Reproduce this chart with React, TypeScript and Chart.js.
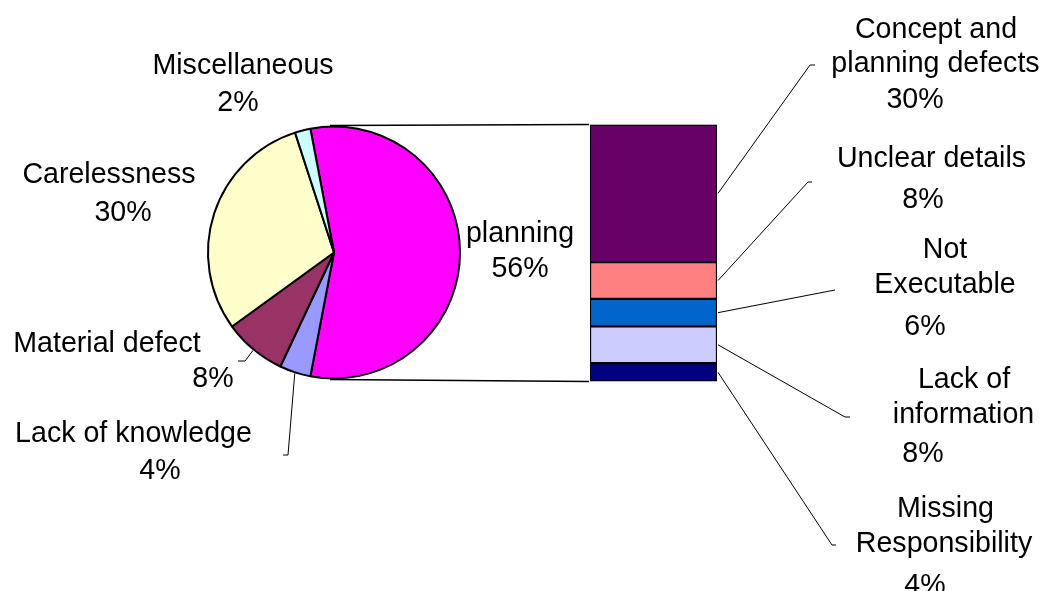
import React, { useEffect, useRef } from "react";
import { Chart, registerables } from "chart.js";

Chart.register(...registerables);

// ---- Data ----
const pieNames = ["planning", "Lack of knowledge", "Material defect", "Carelessness", "Miscellaneous"];
const pieValues = [56, 4, 8, 30, 2];
const pieColors = ["#FF00FF", "#9999FF", "#993366", "#FFFFCC", "#CCFFFF"];

// bar segments, listed top to bottom
const barNames = [
  "Concept and planning defects",
  "Unclear details",
  "Not Executable",
  "Lack of information",
  "Missing Responsibility",
];
const barValues = [30, 8, 6, 8, 4];
const barColors = ["#660066", "#FF8080", "#0066CC", "#CCCCFF", "#000080"];

// how names wrap in the labels
const pieNameLines = [["planning"], ["Lack of knowledge"], ["Material defect"], ["Carelessness"], ["Miscellaneous"]];
const barNameLines = [
  ["Concept and", "planning defects"],
  ["Unclear details"],
  ["Not", "Executable"],
  ["Lack of", "information"],
  ["Missing", "Responsibility"],
];

// ---- Layout (label placement, not data) ----
const PIE_LABEL_POS = [
  [[520, 242], [520, 277]],
  [[133.5, 442], [160, 479]],
  [[107, 352], [213, 387]],
  [[109, 183], [123, 221]],
  [[243, 74], [238, 111]],
];
const PIE_LEADERS: (number[][] | null)[] = [
  null,
  [[288, 455], [283, 455]],
  [[245, 361], [238, 361]],
  null,
  null,
];
const BAR_LABEL_POS = [
  [[936, 38], [935.5, 72], [915, 108]],
  [[931.5, 167], [923, 208]],
  [[945, 258], [945, 293], [925, 335]],
  [[964, 388], [963.5, 423], [923, 462]],
  [[945.5, 517], [944, 552], [925, 594]],
];
const BAR_LEADERS = [
  [[810, 65], [815, 65]],
  [[808, 182], [812, 182]],
  [[835, 290], [835, 290]],
  [[845, 417], [850, 417]],
  [[832, 545], [836, 545]],
];

const W = 1050;
const H = 591;
const FONT = '28.6px "Liberation Sans", Arial, sans-serif';

export default function App() {
  const pieRef = useRef<HTMLCanvasElement>(null);
  const barRef = useRef<HTMLCanvasElement>(null);

  useEffect(() => {
    const pieCx = 334;
    const pieCy = 252.5;
    const half = 150;
    const pie = new Chart(pieRef.current!, {
      type: "pie",
      data: {
        labels: pieNames,
        datasets: [
          {
            data: pieValues,
            backgroundColor: pieColors,
            borderColor: "#000000",
            borderWidth: 2,
          },
        ],
      },
      options: {
        responsive: false,
        animation: false,
        events: [],
        rotation: -(pieValues[0] / 100) * 180 + 90,
        radius: 126,
        layout: {
          padding: {
            left: pieCx - half,
            right: W - (pieCx + half),
            top: pieCy - half,
            bottom: H - (pieCy + half),
          },
        },
        plugins: { legend: { display: false }, tooltip: { enabled: false } },
      },
    });

    const barTotal = barValues.reduce((a, b) => a + b, 0);
    const order = barValues.map((_, i) => i).reverse(); // bottom first for stacking

    const annotate = {
      id: "annotate",
      afterDraw(chart: any) {
        const ctx = chart.ctx as CanvasRenderingContext2D;
        ctx.save();
        // pie geometry
        const pmeta = pie.getDatasetMeta(0);
        const arc0: any = pmeta.data[0];
        const cx = arc0.x;
        const cy = arc0.y;
        const R = arc0.outerRadius;

        // bar geometry
        const topDsIndex = order.indexOf(0);
        const botDsIndex = order.indexOf(barValues.length - 1);
        const topBar: any = chart.getDatasetMeta(topDsIndex).data[0];
        const botBar: any = chart.getDatasetMeta(botDsIndex).data[0];
        const barLeft = topBar.x - topBar.width / 2;
        const barRight = topBar.x + topBar.width / 2;
        const barTop = topBar.y;
        const barBottom = botBar.base;

        // connector lines pie -> bar
        ctx.strokeStyle = "#000000";
        ctx.lineWidth = 1.5;
        ctx.beginPath();
        ctx.moveTo(cx - 4, cy - R - 1);
        ctx.lineTo(barLeft - 1, barTop);
        ctx.moveTo(cx - 4, cy + R + 1);
        ctx.lineTo(barLeft - 1, barBottom);
        ctx.stroke();

        // leader lines
        ctx.lineWidth = 1;
        pieValues.forEach((_, i) => {
          const ld = PIE_LEADERS[i];
          if (!ld) return;
          const a: any = pmeta.data[i];
          const mid = (a.startAngle + a.endAngle) / 2;
          const sx = cx + Math.cos(mid) * (R + 1);
          const sy = cy + Math.sin(mid) * (R + 1);
          ctx.beginPath();
          ctx.moveTo(sx, sy);
          ld.forEach((p) => ctx.lineTo(p[0], p[1]));
          ctx.stroke();
        });
        barValues.forEach((_, i) => {
          const el: any = chart.getDatasetMeta(order.indexOf(i)).data[0];
          const my = (el.y + el.base) / 2;
          const ld = BAR_LEADERS[i];
          ctx.beginPath();
          ctx.moveTo(barRight + 1, my);
          ld.forEach((p) => ctx.lineTo(p[0], p[1]));
          ctx.stroke();
        });

        // labels
        ctx.font = FONT;
        ctx.fillStyle = "#000000";
        ctx.textAlign = "center";
        ctx.textBaseline = "alphabetic";
        pieValues.forEach((v, i) => {
          const lines = [...pieNameLines[i], `${v}%`];
          lines.forEach((t, j) => {
            const p = PIE_LABEL_POS[i][j];
            ctx.fillText(t, p[0], p[1]);
          });
        });
        barValues.forEach((v, i) => {
          const lines = [...barNameLines[i], `${v}%`];
          lines.forEach((t, j) => {
            const p = BAR_LABEL_POS[i][j];
            ctx.fillText(t, p[0], p[1]);
          });
        });
        ctx.restore();
      },
    };

    const bar = new Chart(barRef.current!, {
      type: "bar",
      data: {
        labels: [""],
        datasets: order.map((i) => ({
          label: barNames[i],
          data: [barValues[i]],
          backgroundColor: barColors[i],
          borderColor: "#000000",
          borderWidth: 1.5,
          borderSkipped: false,
          barPercentage: 1,
          categoryPercentage: 1,
        })),
      },
      options: {
        responsive: false,
        animation: false,
        events: [],
        layout: { padding: { left: 590, right: W - 717, top: 124.5, bottom: H - 381.5 } },
        scales: {
          x: { display: false, stacked: true },
          y: { display: false, stacked: true, min: 0, max: barTotal },
        },
        plugins: { legend: { display: false }, tooltip: { enabled: false } },
      },
      plugins: [annotate],
    });

    return () => {
      bar.destroy();
      pie.destroy();
    };
  }, []);

  const cs: React.CSSProperties = { position: "absolute", left: 0, top: 0, width: W, height: H, display: "block" };
  return (
    <div style={{ position: "fixed", left: 0, top: 0, width: W, height: H, background: "#ffffff", overflow: "hidden" }}>
      <canvas ref={pieRef} width={W} height={H} style={cs} />
      <canvas ref={barRef} width={W} height={H} style={cs} />
    </div>
  );
}
